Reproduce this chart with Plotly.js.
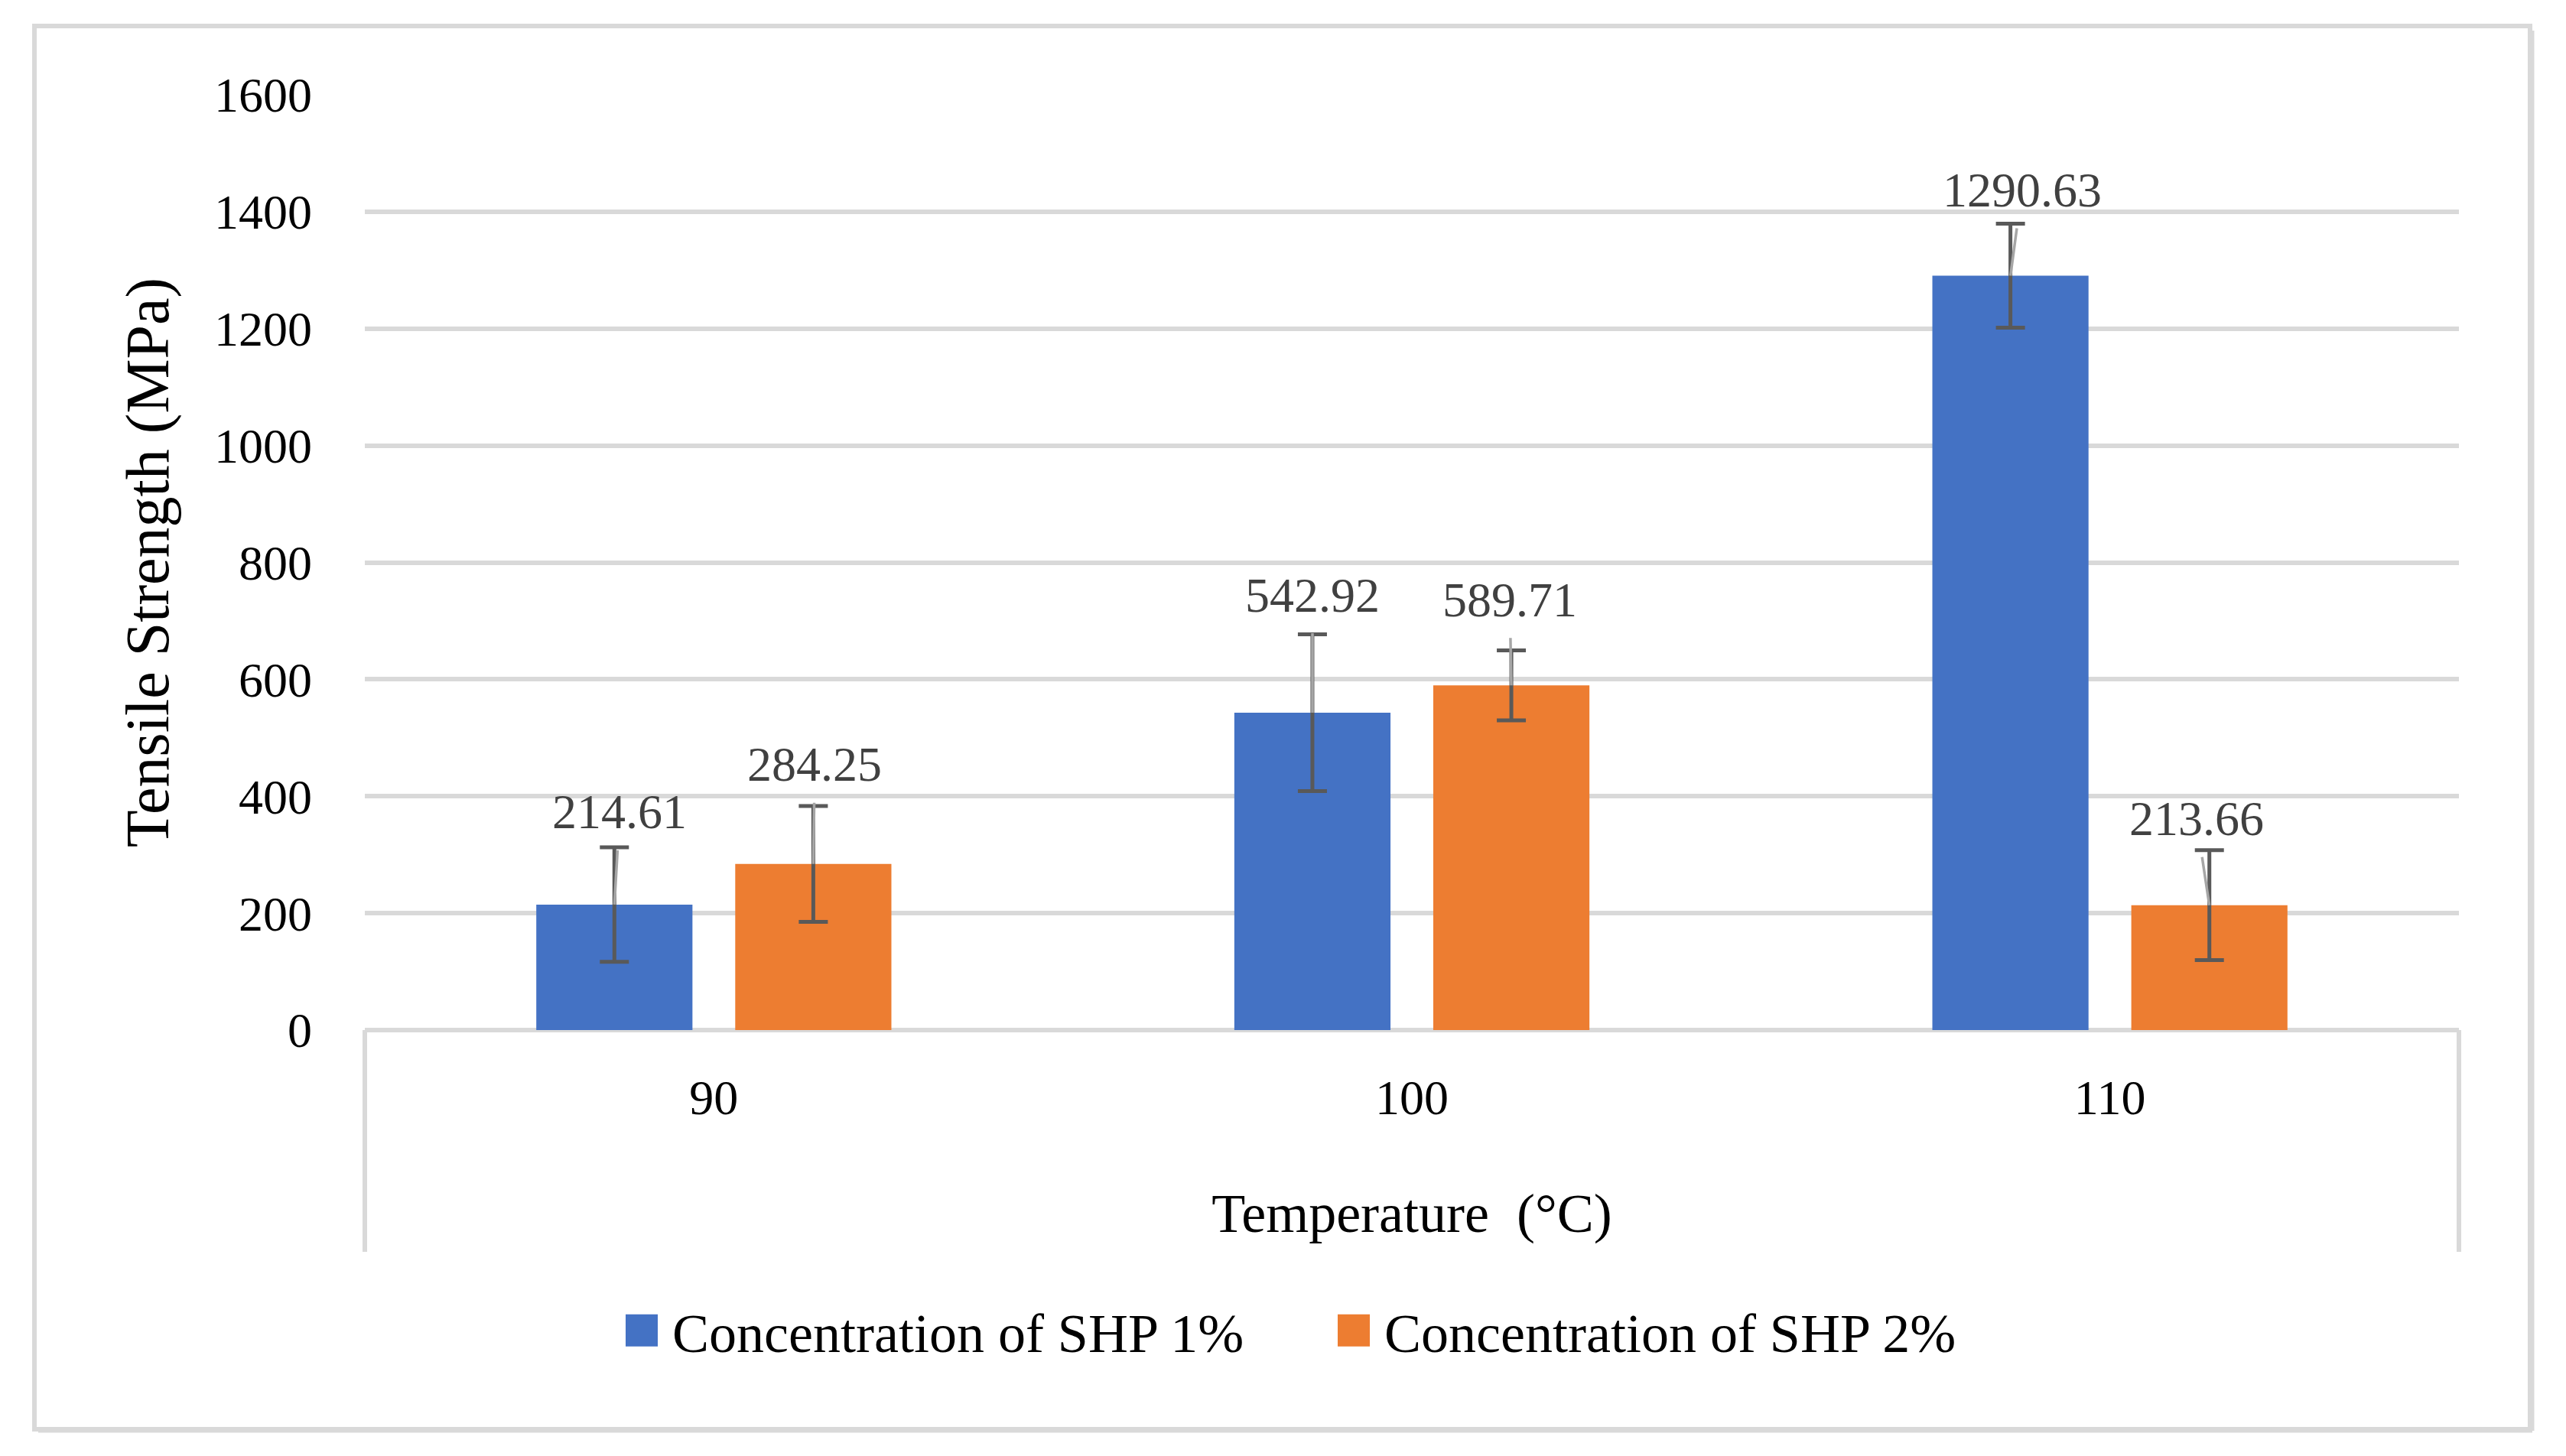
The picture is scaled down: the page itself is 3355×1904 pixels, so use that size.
<!DOCTYPE html>
<html><head><meta charset="utf-8">
<script src="https://cdn.plot.ly/plotly-3.0.1.min.js"></script>
<style>html,body{margin:0;padding:0;background:#fff;}</style>
</head><body>
<div id="chart" style="width:3355px;height:1904px;"></div>
<script>
// ---- data ----
const temperatures = ['90', '100', '110'];
const shp1Values = [214.61, 542.92, 1290.63];
const shp1Errors = [98, 134, 89];
const shp2Values = [284.25, 589.71, 213.66];
const shp2Errors = [99, 60, 94];
const seriesNames = ['Concentration of SHP 1%', 'Concentration of SHP 2%'];
const yTickValues = [0, 200, 400, 600, 800, 1000, 1200, 1400, 1600];
const xAxisTitle = 'Temperature  (°C)';
const yAxisTitle = 'Tensile Strength (MPa)';

// ---- layout geometry (pixels) ----
const W = 3355, H = 1904;
const PL = 477, PR = 3215, PT = 124, PB = 1347;
function px(x) { return (x - PL) / (PR - PL); }
function py(y) { return (PB - y) / (PB - PT); }
const FONT = 'Liberation Serif, Times New Roman, serif';
const barShift = 130;
// label offsets [ax, ay] in px relative to bar top
const labelOffsets1 = [[7, -121], [0, -154], [15, -112]];
const labelOffsets2 = [[2, -130], [-2, -112], [-17, -113]];

const errStyle = {type: 'data', visible: true, color: '#595959', thickness: 5, width: 19};

const traces = [
  {type: 'bar', name: seriesNames[0], x: temperatures, y: shp1Values,
   marker: {color: '#4472C4'}, error_y: Object.assign({array: shp1Errors}, errStyle), hoverinfo: 'none'},
  {type: 'bar', name: seriesNames[1], x: temperatures, y: shp2Values,
   marker: {color: '#ED7D31'}, error_y: Object.assign({array: shp2Errors}, errStyle), hoverinfo: 'none'}
];

const annotations = [];
function addLabels(values, offsets, shift) {
  values.forEach((v, i) => {
    annotations.push({
      x: i, y: v, xref: 'x', yref: 'y', xshift: shift,
      text: v.toFixed(2), showarrow: true, arrowhead: 0, arrowwidth: 3.5,
      arrowcolor: '#A6A6A6', standoff: 0, startstandoff: 0,
      ax: offsets[i][0], ay: offsets[i][1], borderpad: 14,
      font: {family: FONT, size: 64, color: '#404040'}
    });
  });
}
addLabels(shp1Values, labelOffsets1, -barShift);
addLabels(shp2Values, labelOffsets2, barShift);

const lineCol = '#D9D9D9';
const shapes = [
  {type: 'rect', xref: 'paper', yref: 'paper', x0: px(45), x1: px(3308), y0: py(1869), y1: py(34),
   line: {color: lineCol, width: 6}},
  {type: 'line', xref: 'paper', yref: 'paper', x0: px(50), x1: px(3311), y0: py(1871), y1: py(1871),
   line: {color: lineCol, width: 5}},
  {type: 'line', xref: 'paper', yref: 'paper', x0: px(3311), x1: px(3311), y0: py(1871), y1: py(40),
   line: {color: lineCol, width: 5}},
  {type: 'line', xref: 'paper', yref: 'paper', x0: 0, x1: 0, y0: 0, y1: py(1637), line: {color: lineCol, width: 6}},
  {type: 'line', xref: 'paper', yref: 'paper', x0: 1, x1: 1, y0: 0, y1: py(1637), line: {color: lineCol, width: 6}}
];

const layout = {
  width: W, height: H,
  margin: {l: PL, r: W - PR, t: PT, b: H - PB, pad: 0},
  paper_bgcolor: '#ffffff', plot_bgcolor: '#ffffff',
  font: {family: FONT, color: '#000000'},
  barmode: 'group', bargap: 0.43, bargroupgap: 0.215,
  showlegend: true,
  legend: {orientation: 'h', x: px(1730), xanchor: 'center', y: py(1740), yanchor: 'middle',
           font: {family: FONT, size: 72, color: '#000000'}, itemwidth: 70, entrywidth: 846,
           bgcolor: 'rgba(0,0,0,0)', traceorder: 'normal'},
  xaxis: {type: 'category', range: [-0.5, 2.5], autorange: false, showgrid: false, showline: false,
          zeroline: false, ticks: '',
          tickfont: {family: FONT, size: 64, color: '#000000'}, ticklabelstandoff: 45,
          automargin: true,
          title: {text: xAxisTitle, font: {family: FONT, size: 72, color: '#000000'}, standoff: 90}},
  yaxis: {range: [0, 1600], autorange: false, tickvals: yTickValues, showgrid: true, gridcolor: lineCol, gridwidth: 6,
          zeroline: true, zerolinecolor: lineCol, zerolinewidth: 6, showline: false, ticks: '',
          tickfont: {family: FONT, size: 64, color: '#000000'}, ticklabelstandoff: 68,
          automargin: true,
          title: {text: yAxisTitle, font: {family: FONT, size: 80, color: '#000000'}, standoff: 33}},
  annotations: annotations,
  shapes: shapes
};

Plotly.newPlot('chart', traces, layout, {staticPlot: true, displayModeBar: false}).then(() => {
  // enlarge legend swatches to the reference's square size
  document.querySelectorAll('.legend .traces .legendpoints path').forEach(p => {
    p.setAttribute('d', 'M21,21H-21V-21H21Z');
  });
});
</script>
</body></html>
